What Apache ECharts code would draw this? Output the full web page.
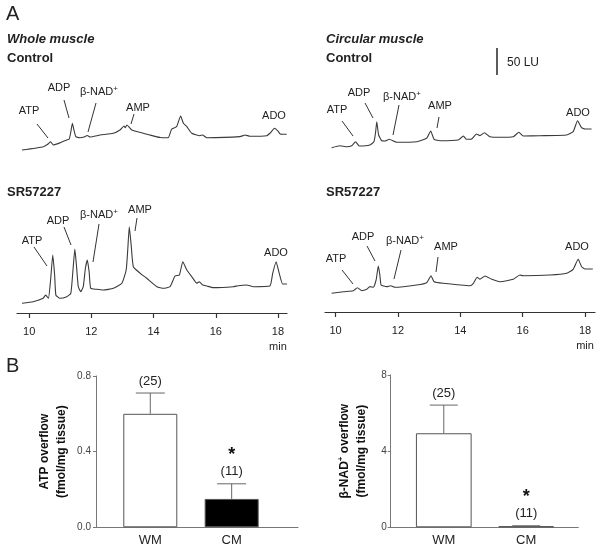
<!DOCTYPE html>
<html>
<head>
<meta charset="utf-8">
<script src="https://cdn.jsdelivr.net/npm/echarts@6/dist/echarts.min.js"></script>
<style>html,body{margin:0;padding:0;background:#fff;}#c{width:600px;height:550px;}</style>
</head>
<body>
<div id="c"></div>
<script>
// ---------- DATA ----------
// Chromatograms: [retention time (min), fluorescence (LU)]
const wholeControl = [[9.77,18.5],[10.46,24.6],[10.62,30],[10.69,33.9],[10.78,27.8],[11.0,32],[11.21,37.0],[11.29,38.9],[11.34,52],[11.39,68.0],[11.44,55.6],[11.50,43.2],[11.63,41.3],[11.76,42.6],[11.87,45.4],[11.96,42.6],[12.28,46.3],[12.70,49.4],[12.92,55.6],[13.05,63.0],[13.09,59.8],[13.14,64.8],[13.30,55.6],[13.56,51.3],[13.88,46.3],[14.21,41.7],[14.47,41.3],[14.58,56.9],[14.74,61.7],[14.87,81.5],[14.96,68.0],[15.07,61.7],[15.23,49.4],[15.49,45.0],[15.57,46.3],[15.71,41.3],[16.78,43.2],[16.94,46.3],[17.10,43.9],[17.64,45.0],[17.75,50.0],[17.89,58.7],[18.01,52.8],[18.07,48.1],[18.28,47.6]];
const wholeSR = [[9.77,18.0],[10.13,20.9],[10.45,27.2],[10.53,33.3],[10.62,27.2],[10.69,61],[10.76,107.4],[10.82,70.4],[10.86,33.3],[10.99,27.2],[11.21,30.2],[11.34,36.5],[11.41,79.6],[11.47,118.5],[11.52,88.9],[11.58,48.7],[11.66,39.4],[11.74,48.7],[11.81,83.3],[11.87,98.2],[11.93,75.9],[11.98,45.7],[12.17,43.9],[12.38,42.6],[12.71,45.7],[12.98,55.0],[13.12,79.6],[13.17,116.7],[13.22,159.8],[13.28,125.9],[13.35,85.7],[13.57,73.5],[13.78,64.3],[14.11,48.7],[14.32,45.7],[14.53,48.7],[14.69,68.5],[14.83,70.4],[14.94,95.0],[15.07,79.6],[15.23,67.2],[15.39,55.0],[15.47,58.0],[15.58,51.9],[15.71,50.0],[15.92,46.9],[16.56,48.7],[16.72,50.6],[16.99,51.9],[17.21,48.7],[17.74,50.0],[17.83,73.5],[17.94,95.0],[18.04,73.5],[18.15,53.7],[18.29,53.7]];
const circularControl = [[9.87,22.8],[10.14,26.5],[10.36,24.6],[10.53,26.9],[10.64,33.9],[10.76,25.9],[11.10,27.8],[11.23,33.9],[11.28,50],[11.32,70.9],[11.38,46.3],[11.48,35.7],[11.58,35.2],[11.72,38.3],[11.96,32.8],[12.60,33.9],[12.92,40.2],[13.05,53.7],[13.16,38.3],[13.35,35.7],[13.93,37.0],[14.10,44.4],[14.20,38.3],[14.36,38.9],[14.52,48.2],[14.63,45.0],[14.77,50.6],[14.95,43.2],[15.27,42.0],[15.70,43.2],[15.88,51.3],[16.02,44.4],[16.55,45.0],[17.41,46.3],[17.62,52.4],[17.76,72.8],[17.89,59.8],[18.00,57.4],[18.21,57.4]];
const circularSR = [[9.87,34.6],[10.25,37.6],[10.57,39.4],[10.70,45.0],[10.84,39.4],[11.00,42.0],[11.10,46.9],[11.21,45.7],[11.30,59.3],[11.37,85.2],[11.42,68.5],[11.46,50.0],[11.64,46.9],[11.77,48.7],[11.90,45.7],[12.60,50.0],[12.92,54.3],[13.06,67.2],[13.16,56.1],[13.45,53.2],[14.31,48.7],[14.42,53.2],[14.54,64.3],[14.63,60.6],[14.79,66.7],[15.01,60.6],[15.27,56.1],[15.70,60.6],[15.91,68.5],[16.02,67.2],[16.88,68.5],[17.41,71.7],[17.62,79.1],[17.78,97.6],[17.89,83.9],[18.00,79.6],[18.25,79.6]];
const timeTicks = [10, 12, 14, 16, 18];

// Panel B
const barCategories = ['WM', 'CM'];
const atpMean = [0.60, 0.15];
const atpSem = [0.11, 0.08];
const nadMean = [4.94, 0.06];
const nadSem = [1.48, 0.02];
const nCounts = ['(25)', '(11)'];
const significant = [false, true];
const atpTicks = [0, 0.4, 0.8];
const nadTicks = [0, 4, 8];

// ---------- CHART ----------
const FF = "'Liberation Sans', Arial, 'DejaVu Sans', sans-serif";
const chart = echarts.init(document.getElementById('c'), null, {renderer: 'canvas'});
const LU_PER_PX = 50 / 27;

function traceX(gi, min, max, showAxis) {
  const ax = {type: 'value', gridIndex: gi, min: min, max: max, splitLine: {show: false}};
  if (!showAxis) { ax.show = false; return ax; }
  ax.axisLine = {show: true, lineStyle: {color: '#333', width: 1.2}};
  ax.axisTick = {show: true, customValues: timeTicks, length: 5, lineStyle: {color: '#333', width: 1.2}};
  ax.axisLabel = {show: true, customValues: timeTicks, fontSize: 11, fontFamily: FF, color: '#222', margin: 11, lineHeight: 15,
    formatter: v => v === 18 ? '18\nmin' : String(v)};
  return ax;
}
function traceY(gi, heightPx) {
  return {type: 'value', gridIndex: gi, min: 0, max: heightPx * LU_PER_PX, show: false};
}
function traceSeries(data, gi) {
  return {type: 'line', xAxisIndex: gi, yAxisIndex: gi, data: data, showSymbol: false, symbol: 'none',
    smooth: 0.15, lineStyle: {color: '#3a3a3a', width: 1.1}, clip: false, silent: true, animation: false};
}
function barSeries(means, gi, bw) {
  return {type: 'bar', xAxisIndex: gi, yAxisIndex: gi, barWidth: bw, animation: false,
    data: means.map((m, i) => ({value: [i + 1, m], itemStyle: {color: i === 0 ? '#ffffff' : '#000000', borderColor: '#555', borderWidth: 1}}))};
}
function errSeries(means, sems, gi, capHalf) {
  return {type: 'custom', xAxisIndex: gi, yAxisIndex: gi, z: 5, animation: false,
    data: means.map((m, i) => [i + 1, m, sems[i]]),
    renderItem: function (params, api) {
      const i = params.dataIndex;
      const x = api.value(0), m = api.value(1), s = api.value(2);
      const p0 = api.coord([x, m]), p1 = api.coord([x, m + s]);
      const ch = [
        {type: 'line', shape: {x1: p0[0], y1: p0[1], x2: p1[0], y2: p1[1]}, style: {stroke: '#666', lineWidth: 1}},
        {type: 'line', shape: {x1: p1[0] - capHalf, y1: p1[1], x2: p1[0] + capHalf, y2: p1[1]}, style: {stroke: '#666', lineWidth: 1}},
        {type: 'text', style: {text: nCounts[i], x: p1[0], y: p1[1] - 12, align: 'center', verticalAlign: 'middle', font: '13px ' + FF, fill: '#222'}}
      ];
      if (significant[i]) ch.push({type: 'text', style: {text: '*', x: p1[0], y: p1[1] - 29, align: 'center', verticalAlign: 'middle', font: 'bold 18px ' + FF, fill: '#111'}});
      return {type: 'group', children: ch};
    }};
}

// annotation helpers
function txt(t, x, y, size, opts) {
  opts = opts || {};
  return {type: 'text', x: x, y: y, silent: true, style: {text: t, font: (opts.font || '') + ' ' + size + 'px ' + FF,
    fill: '#222', align: opts.align || 'center', verticalAlign: 'middle'}};
}
function nadTxt(x, y) {
  return {type: 'text', x: x, y: y, silent: true, style: {text: '{b|β-NAD}{s|+}', align: 'left', verticalAlign: 'middle',
    rich: {b: {fontSize: 11, fontFamily: FF, fill: '#222', lineHeight: 14, verticalAlign: 'middle'},
           s: {fontSize: 8, fontFamily: FF, fill: '#222', lineHeight: 14, verticalAlign: 'top'}}}};
}
function ln(x1, y1, x2, y2, w) {
  return {type: 'line', silent: true, shape: {x1: x1, y1: y1, x2: x2, y2: y2}, style: {stroke: '#333', lineWidth: w || 1}};
}
const peakAnn = [
  // left control
  txt('ATP', 29, 111, 11), ln(37, 124, 48, 138), txt('ADP', 59, 88, 11), ln(64, 100, 69, 118),
  nadTxt(80, 92), ln(96, 103, 88, 132), txt('AMP', 138, 108, 11), ln(134, 114, 131, 124), txt('ADO', 274, 116, 11),
  // left SR
  txt('ATP', 32, 241, 11), ln(34, 247, 47, 266), txt('ADP', 58, 221, 11), ln(64, 227, 71, 245),
  nadTxt(80, 215), ln(99, 224, 93, 262), txt('AMP', 140, 210, 11), ln(137, 218, 135, 231), txt('ADO', 276, 253, 11),
  // right control
  txt('ATP', 337, 110, 11), ln(342, 121, 353, 136), txt('ADP', 359, 93, 11), ln(365, 103, 373, 118),
  nadTxt(383, 97), ln(399, 105, 393, 135), txt('AMP', 440, 106, 11), ln(439, 117, 437, 128), txt('ADO', 578, 113, 11),
  // right SR
  txt('ATP', 336, 259, 11), ln(342, 270, 353, 284), txt('ADP', 363, 237, 11), ln(367, 246, 375, 261),
  nadTxt(386, 241), ln(401, 250, 394, 279), txt('AMP', 446, 247, 11), ln(438, 257, 436, 272), txt('ADO', 577, 247, 11)
];
const headers = [
  txt('A', 6, 14, 20, {align: 'left'}),
  txt('Whole muscle', 7, 39, 13, {align: 'left', font: 'italic bold'}),
  txt('Control', 7, 58, 13, {align: 'left', font: 'bold'}),
  txt('Circular muscle', 326, 39, 13, {align: 'left', font: 'italic bold'}),
  txt('Control', 326, 58, 13, {align: 'left', font: 'bold'}),
  txt('SR57227', 7, 192, 13, {align: 'left', font: 'bold'}),
  txt('SR57227', 326, 192, 13, {align: 'left', font: 'bold'}),
  ln(497, 48, 497, 75, 1.6),
  txt('50 LU', 507, 63, 12, {align: 'left'}),
  txt('B', 6, 366, 20, {align: 'left'})
];

const barAxisLine = {show: true, lineStyle: {color: '#777', width: 1}};
const option = {
  backgroundColor: '#fff',
  animation: false,
  grid: [
    {left: 17, top: 100, width: 270, height: 60},
    {left: 17, top: 200, width: 270, height: 113},
    {left: 325, top: 100, width: 270, height: 60},
    {left: 325, top: 200, width: 270, height: 112},
    {left: 96, top: 376, width: 202, height: 151.3},
    {left: 390.7, top: 375, width: 187.6, height: 152.3}
  ],
  xAxis: [
    traceX(0, 9.61, 18.29, false),
    traceX(1, 9.61, 18.29, true),
    traceX(2, 9.66, 18.32, false),
    traceX(3, 9.66, 18.32, true),
    {type: 'value', gridIndex: 4, min: 0.333, max: 2.815, splitLine: {show: false}, axisLine: barAxisLine, axisTick: {show: false},
      axisLabel: {customValues: [1, 2], formatter: v => barCategories[Math.round(v) - 1], fontSize: 13, fontFamily: FF, color: '#222', margin: 7}},
    {type: 'value', gridIndex: 5, min: 0.356, max: 2.632, splitLine: {show: false}, axisLine: barAxisLine, axisTick: {show: false},
      axisLabel: {customValues: [1, 2], formatter: v => barCategories[Math.round(v) - 1], fontSize: 13, fontFamily: FF, color: '#222', margin: 7}}
  ],
  yAxis: [
    traceY(0, 60), traceY(1, 113), traceY(2, 60), traceY(3, 112),
    {type: 'value', gridIndex: 4, min: 0, max: 0.8, interval: 0.4, splitLine: {show: false}, axisLine: barAxisLine,
      axisTick: {show: true, length: 3, lineStyle: {color: '#777'}},
      axisLabel: {customValues: atpTicks, formatter: v => v.toFixed(1), fontSize: 10, fontFamily: FF, color: '#444', margin: 5},
      name: 'ATP overflow\n(fmol/mg tissue)', nameLocation: 'middle', nameRotate: 90, nameGap: 26,
      nameTextStyle: {fontSize: 12, fontWeight: 'bold', fontFamily: FF, color: '#111', lineHeight: 16.7}},
    {type: 'value', gridIndex: 5, min: 0, max: 8, interval: 4, splitLine: {show: false}, axisLine: barAxisLine,
      axisTick: {show: true, length: 3, lineStyle: {color: '#777'}},
      axisLabel: {customValues: nadTicks, fontSize: 10, fontFamily: FF, color: '#444', margin: 4},
      name: '{a|β-NAD}{s|+}{a| overflow}\n{a|(fmol/mg tissue)}', nameLocation: 'middle', nameRotate: 90, nameGap: 21,
      nameTextStyle: {fontSize: 12, fontWeight: 'bold', fontFamily: FF, color: '#111', lineHeight: 16.7,
        rich: {a: {fontSize: 12, fontWeight: 'bold', fontFamily: FF, color: '#111', lineHeight: 16.7},
               s: {fontSize: 8, fontWeight: 'bold', fontFamily: FF, color: '#111', lineHeight: 16.7, verticalAlign: 'top'}}}}
  ],
  series: [
    traceSeries(wholeControl, 0),
    traceSeries(wholeSR, 1),
    traceSeries(circularControl, 2),
    traceSeries(circularSR, 3),
    barSeries(atpMean, 4, 54),
    errSeries(atpMean, atpSem, 4, 14.5),
    barSeries(nadMean, 5, 55.7),
    errSeries(nadMean, nadSem, 5, 14)
  ],
  graphic: headers.concat(peakAnn)
};
chart.setOption(option);
</script>
</body>
</html>
